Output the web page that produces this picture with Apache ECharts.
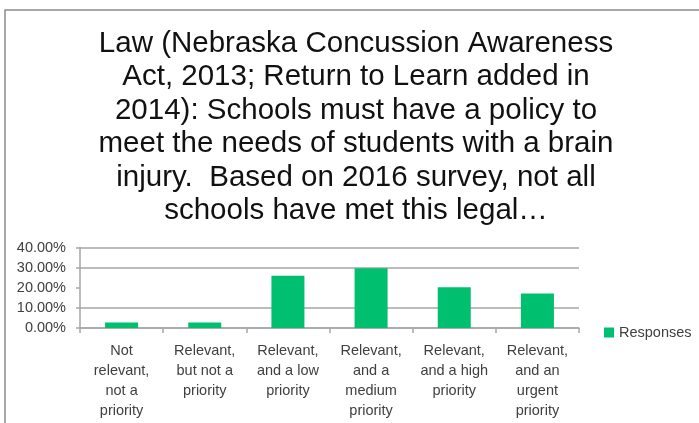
<!DOCTYPE html>
<html>
<head>
<meta charset="utf-8">
<style>
  html, body { margin: 0; padding: 0; background: #ffffff; }
  #chart { width: 699px; height: 423px; }
</style>
<script src="https://cdn.jsdelivr.net/npm/echarts@6/dist/echarts.min.js"></script>
</head>
<body>
<div id="chart"></div>
<script>
// Survey categories (line breaks as shown under the axis)
const categories = [
  'Not\nrelevant,\nnot a\npriority',
  'Relevant,\nbut not a\npriority',
  'Relevant,\nand a low\npriority',
  'Relevant,\nand a\nmedium\npriority',
  'Relevant,\nand a high\npriority',
  'Relevant,\nand an\nurgent\npriority'
];

// Share of responses, in percent
const responses = [2.7, 2.7, 26.0, 29.7, 20.3, 17.1];

const seriesName = 'Responses';

const titleLines = [
  'Law (Nebraska Concussion Awareness',
  'Act, 2013; Return to Learn added in',
  '2014): Schools must have a policy to',
  'meet the needs of students with a brain',
  'injury.  Based on 2016 survey, not all',
  'schools have met this legal\u2026'
];

// Value axis ticks (percent)
const yMin = 0, yMax = 40, yStep = 10;

const font = '"Liberation Sans", Arial, sans-serif';
const labelColor = '#404040';
const gridColor = '#a6a6a6';

const chart = echarts.init(document.getElementById('chart'), null, { renderer: 'canvas' });

chart.setOption({
  animation: false,
  backgroundColor: '#ffffff',
  graphic: [{
    type: 'rect',
    shape: { x: 5, y: 10, width: 760, height: 480 },
    style: { fill: 'none', stroke: '#8c8c8c', lineWidth: 1.5 },
    silent: true,
    z: -1
  }],
  title: {
    text: titleLines.join('\n'),
    left: 351,
    top: 22,
    textAlign: 'center',
    textStyle: {
      fontFamily: font,
      fontSize: 29.5,
      fontWeight: 'normal',
      color: '#111111',
      lineHeight: 33.5
    }
  },
  legend: {
    data: [seriesName],
    left: 604,
    top: 325,
    padding: 0,
    icon: 'rect',
    itemWidth: 10,
    itemHeight: 10,
    textStyle: { fontFamily: font, fontSize: 14.5, color: labelColor }
  },
  grid: {
    left: 80,
    right: 120,
    top: 247.5,
    bottom: 95,
    containLabel: false
  },
  xAxis: {
    type: 'category',
    data: categories,
    axisLine: { show: true, lineStyle: { color: gridColor, width: 1.5 } },
    axisTick: { show: true, length: 5, alignWithLabel: false, lineStyle: { color: gridColor, width: 1.5 } },
    axisLabel: {
      interval: 0,
      margin: 13,
      fontFamily: font,
      fontSize: 14.5,
      lineHeight: 20,
      color: labelColor,
      align: 'center'
    }
  },
  yAxis: {
    type: 'value',
    min: yMin,
    max: yMax,
    interval: yStep,
    axisLine: { show: true, lineStyle: { color: gridColor, width: 1.5 } },
    axisTick: { show: true, length: 4, lineStyle: { color: gridColor, width: 1.5 } },
    axisLabel: {
      margin: 14,
      fontFamily: font,
      fontSize: 14.5,
      color: labelColor,
      formatter: v => v.toFixed(2) + '%'
    },
    splitLine: {
      show: true,
      lineStyle: {
        color: [gridColor, gridColor, 'rgba(0,0,0,0)', gridColor, gridColor],
        width: 1.5
      }
    }
  },
  series: [{
    name: seriesName,
    type: 'bar',
    data: responses,
    barWidth: 33,
    itemStyle: { color: '#00bf6f' }
  }]
});
</script>
</body>
</html>
